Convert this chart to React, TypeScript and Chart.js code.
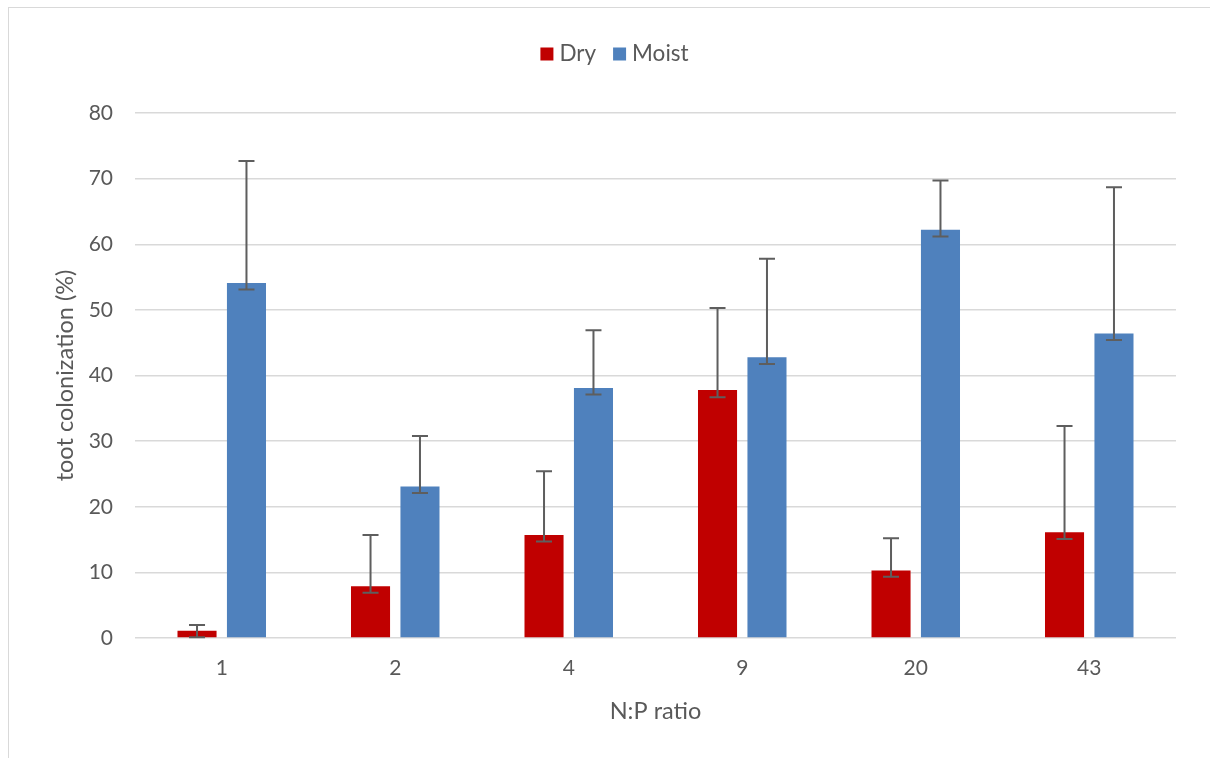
import React, { useEffect, useRef } from "react";
import { Chart, registerables } from "chart.js";

Chart.register(...registerables);

const categories = ["1", "2", "4", "9", "20", "43"];
const dryValues = [1.1, 7.9, 15.7, 37.8, 10.3, 16.1];
const dryErrPlus = [0.9, 7.8, 9.7, 12.5, 4.9, 16.2];
const dryErrMinus = [1.0, 1.0, 1.0, 1.1, 0.95, 1.0];
const moistValues = [54.1, 23.1, 38.1, 42.8, 62.2, 46.4];
const moistErrPlus = [18.6, 7.7, 8.8, 15.0, 7.5, 22.3];
const moistErrMinus = [1.0, 1.0, 1.0, 1.05, 1.0, 1.0];
const seriesNames = ["Dry", "Moist"];
const seriesColors = ["#C00000", "#4F81BD"];
const yMin = 0;
const yMax = 80;
const yStep = 10;
const yTitle = "toot colonization (%)";
const xTitle = "N:P ratio";

const FONT = "Lato, 'Open Sans', sans-serif";
const TEXT = "#595959";

const errorBarPlugin = {
  id: "errorBars",
  afterDatasetsDraw(chart: any) {
    const ctx = chart.ctx;
    const y = chart.scales.y;
    ctx.save();
    ctx.strokeStyle = "#5E5E5E";
    ctx.lineWidth = 2;
    chart.data.datasets.forEach((ds: any, di: number) => {
      const meta = chart.getDatasetMeta(di);
      meta.data.forEach((bar: any, i: number) => {
        const v = ds.data[i];
        const top = y.getPixelForValue(v + ds.errPlus[i]);
        const bot = y.getPixelForValue(v - ds.errMinus[i]);
        const x = bar.x;
        ctx.beginPath();
        ctx.moveTo(x, top);
        ctx.lineTo(x, bot);
        ctx.moveTo(x - 8, top);
        ctx.lineTo(x + 8, top);
        ctx.moveTo(x - 8, bot);
        ctx.lineTo(x + 8, bot);
        ctx.stroke();
      });
    });
    ctx.restore();
  },
};

const textPlugin = {
  id: "textDecor",
  afterDraw(chart: any) {
    const ctx = chart.ctx;
    const area = chart.chartArea;
    ctx.save();
    ctx.fillStyle = TEXT;
    ctx.textBaseline = "middle";
    // legend
    ctx.font = `22.5px ${FONT}`;
    const boxSize = 13;
    const legendY = 54;
    const entries = seriesNames.map((n) => ({ n, w: ctx.measureText(n).width }));
    const gapBoxText = 6;
    const gapItems = 17;
    let total = 0;
    entries.forEach((e, i) => {
      total += boxSize + gapBoxText + e.w + (i < entries.length - 1 ? gapItems : 0);
    });
    let x = 614.5 - total / 2;
    entries.forEach((e, i) => {
      ctx.fillStyle = seriesColors[i];
      ctx.fillRect(x, legendY - boxSize / 2, boxSize, boxSize);
      x += boxSize + gapBoxText;
      ctx.fillStyle = TEXT;
      ctx.textAlign = "left";
      ctx.fillText(e.n, x, legendY);
      x += e.w + gapItems;
    });
    // x title
    ctx.font = `23.5px ${FONT}`;
    ctx.textAlign = "center";
    ctx.fillText(xTitle, (area.left + area.right) / 2, 711);
    // y title
    ctx.translate(65, (area.top + area.bottom) / 2);
    ctx.rotate(-Math.PI / 2);
    ctx.fillText(yTitle, 0, 0);
    ctx.restore();
  },
};

export default function App() {
  const canvasRef = useRef<HTMLCanvasElement | null>(null);

  useEffect(() => {
    const canvas = canvasRef.current;
    if (!canvas) return;
    const chart = new Chart(canvas, {
      type: "bar",
      data: {
        labels: categories,
        datasets: [
          {
            label: seriesNames[0],
            data: dryValues,
            backgroundColor: seriesColors[0],
            borderWidth: 0,
            errPlus: dryErrPlus,
            errMinus: dryErrMinus,
          } as any,
          {
            label: seriesNames[1],
            data: moistValues,
            backgroundColor: seriesColors[1],
            borderWidth: 0,
            errPlus: moistErrPlus,
            errMinus: moistErrMinus,
          } as any,
        ],
      },
      options: {
        animation: false,
        responsive: false,
        categoryPercentage: 0.57,
        barPercentage: 0.79,
        layout: { padding: { left: 0, top: 113, right: 34, bottom: 0 } },
        plugins: {
          legend: { display: false },
          tooltip: { enabled: false },
          title: { display: false },
        },
        scales: {
          x: {
            grid: { display: false, drawTicks: false },
            border: { display: false },
            ticks: {
              color: TEXT,
              font: { family: FONT, size: 21 },
              padding: 18,
            },
            afterFit(scale: any) {
              scale.height = 758 - 638;
            },
          },
          y: {
            min: yMin,
            max: yMax,
            grid: { color: "#D9D9D9", lineWidth: 1.5, drawTicks: false },
            border: { display: false },
            ticks: {
              stepSize: yStep,
              color: TEXT,
              font: { family: FONT, size: 21 },
              padding: 22,
            },
            afterFit(scale: any) {
              scale.width = 135;
            },
          },
        },
      } as any,
      plugins: [errorBarPlugin, textPlugin],
    });
    return () => chart.destroy();
  }, []);

  return (
    <div>
      <div
        style={{
          position: "fixed",
          left: 8,
          top: 7,
          width: 1300,
          height: 800,
          border: "1px solid #D9D9D9",
          boxSizing: "border-box",
        }}
      />
      <canvas
        ref={canvasRef}
        width={1210}
        height={758}
        style={{ position: "fixed", left: 0, top: 0, width: 1210, height: 758 }}
      />
    </div>
  );
}
